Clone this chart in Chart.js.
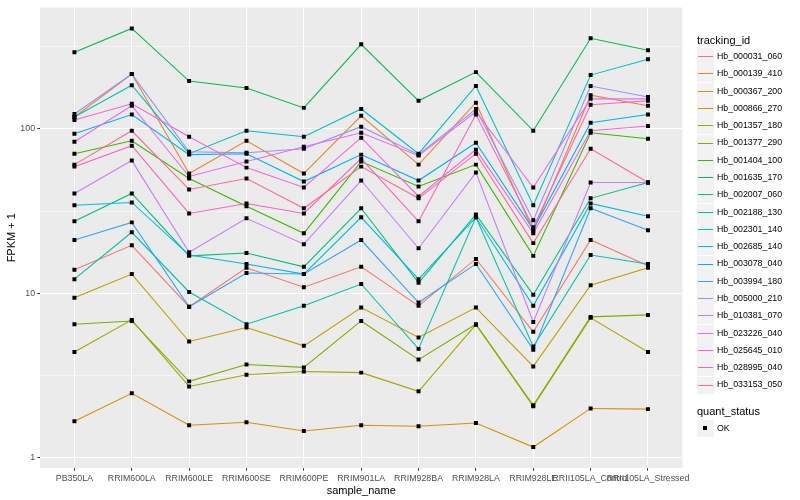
<!DOCTYPE html>
<html>
<head>
<meta charset="utf-8">
<script src="https://cdn.jsdelivr.net/npm/chart.js@4.4.1/dist/chart.umd.min.js"></script>
<style>
  html, body { margin: 0; padding: 0; background: #fff; }
  #wrap { position: relative; width: 800px; height: 500px; font-family: 'Liberation Sans', Arial, sans-serif; }
  #chart { position: absolute; left: 0; top: 0; }
  .lg { position: absolute; white-space: nowrap; color: #000; }
  .key { position: absolute; left: 697px; width: 17px; height: 17px; background: #F2F2F2; }
</style>
</head>
<body>
<div id="wrap">
  <canvas id="chart" width="800" height="500"></canvas>
  <div id="legend"></div>
</div>
<script>
const sampleNames = ['PB350LA', 'RRIM600LA', 'RRIM600LE', 'RRIM600SE', 'RRIM600PE', 'RRIM901LA',
  'RRIM928BA', 'RRIM928LA', 'RRIM928LE', 'RRII105LA_Control', 'RRII105LA_Stressed'];

// FPKM + 1, one value per sample
const hb_000031_060 = [13.9, 19.6, 8.3, 14.3, 10.9, 14.5, 8.4, 16.2, 5.85, 21.1, 14.7];
const hb_000139_410 = [118, 215, 53.5, 84.6, 53.5, 120, 60.6, 144, 23.9, 160, 138];
const hb_000367_200 = [1.67, 2.47, 1.58, 1.65, 1.46, 1.58, 1.56, 1.63, 1.165, 2.0, 1.98];
const hb_000866_270 = [9.4, 13.1, 5.1, 6.2, 4.8, 8.2, 5.4, 8.2, 3.6, 11.2, 14.3];
const hb_001357_180 = [4.4, 6.9, 2.72, 3.2, 3.35, 3.3, 2.54, 6.45, 2.06, 7.1, 4.4];
const hb_001377_290 = [6.5, 6.8, 2.92, 3.7, 3.55, 6.8, 3.96, 6.5, 2.09, 7.2, 7.4];
const hb_001404_100 = [70.6, 84.6, 49.9, 33.8, 23.2, 63.2, 44.6, 60.6, 16.9, 94.6, 87.1];
const hb_001635_170 = [292, 407, 195, 177, 134, 326, 148, 221, 97.3, 355, 300];
const hb_002007_060 = [27.4, 40.5, 16.9, 17.6, 14.5, 32.9, 11.6, 30.2, 9.8, 37.8, 47.2];
const hb_002188_130 = [12.2, 23.5, 10.2, 6.5, 8.4, 11.4, 4.6, 29.0, 4.75, 17.1, 15.1];
const hb_002301_140 = [118, 184, 70.6, 97.3, 89.5, 132, 70.6, 182, 34.3, 212, 265];
const hb_002685_140 = [34.3, 35.7, 17.1, 15.1, 13.1, 29.0, 12.2, 29.0, 8.4, 35.2, 29.4];
const hb_003078_040 = [93.3, 122, 69.7, 70.6, 47.8, 69.7, 48.5, 82.3, 24.5, 109, 122];
const hb_003994_180 = [21.1, 27.0, 8.3, 13.3, 13.1, 21.1, 8.8, 15.1, 4.55, 32.9, 24.2];
const hb_005000_210 = [123, 215, 72.6, 71.6, 75.7, 103, 69.7, 132, 27.8, 182, 156];
const hb_010381_070 = [40.5, 64.1, 17.8, 28.6, 19.9, 48.5, 18.8, 54.2, 6.7, 47.2, 47.2];
const hb_023226_040 = [83.4, 138, 51.3, 63.2, 77.8, 94.6, 68.7, 127, 44.0, 152, 152];
const hb_025645_010 = [113, 142, 89.5, 58.1, 44.0, 88.3, 38.8, 74.7, 23.2, 97.3, 104];
const hb_028995_040 = [58.9, 78.9, 30.6, 35.2, 30.6, 65.9, 27.4, 122, 25.2, 140, 148];
const hb_033153_050 = [60.6, 97.3, 42.8, 49.9, 32.9, 58.9, 37.8, 70.6, 20.2, 75.7, 47.2];

const trackingIds = ['Hb_000031_060', 'Hb_000139_410', 'Hb_000367_200', 'Hb_000866_270', 'Hb_001357_180',
  'Hb_001377_290', 'Hb_001404_100', 'Hb_001635_170', 'Hb_002007_060', 'Hb_002188_130', 'Hb_002301_140',
  'Hb_002685_140', 'Hb_003078_040', 'Hb_003994_180', 'Hb_005000_210', 'Hb_010381_070', 'Hb_023226_040',
  'Hb_025645_010', 'Hb_028995_040', 'Hb_033153_050'];
const seriesValues = [hb_000031_060, hb_000139_410, hb_000367_200, hb_000866_270, hb_001357_180,
  hb_001377_290, hb_001404_100, hb_001635_170, hb_002007_060, hb_002188_130, hb_002301_140,
  hb_002685_140, hb_003078_040, hb_003994_180, hb_005000_210, hb_010381_070, hb_023226_040,
  hb_025645_010, hb_028995_040, hb_033153_050];
const quantStatus = ['OK'];

const yMajor = [1, 10, 100];
const yMinor = [3.1623, 31.623, 316.23];

// ggplot default hue palette for 20 levels
const palette = ['#F8766D', '#EA8331', '#D89000', '#C09B00', '#A3A500', '#7CAE00', '#39B600', '#00BB4E',
  '#00BF7D', '#00C1A3', '#00BFC4', '#00BAE0', '#00B0F6', '#35A2FF', '#9590FF', '#C77CFF', '#E76BF3',
  '#FA62DB', '#FF62BC', '#FF6C91'];

Chart.defaults.font.family = "'Liberation Sans', Arial, sans-serif";

const lineSets = trackingIds.map((id, i) => ({
    label: id,
    data: seriesValues[i].map((v, j) => ({ x: j, y: v })),
    borderColor: palette[i],
    borderWidth: 1.07,
    pointRadius: 0,
    tension: 0,
    fill: false,
    order: 100 - i
}));

const pointSet = {
    type: 'scatter',
    label: quantStatus[0],
    data: seriesValues.flatMap(vals => vals.map((v, j) => ({ x: j, y: v }))),
    backgroundColor: '#000',
    pointStyle: 'rect',
    pointRadius: 2.8,
    borderWidth: 0,
    showLine: false,
    order: 0
};

const panelBg = {
    id: 'panelBg',
    beforeDraw(chart) {
        const { ctx, chartArea: a } = chart;
        ctx.save();
        ctx.fillStyle = '#EBEBEB';
        ctx.fillRect(a.left, a.top, a.right - a.left, a.bottom - a.top);
        ctx.restore();
    }
};

new Chart(document.getElementById('chart').getContext('2d'), {
    type: 'line',
    data: { datasets: [pointSet, ...lineSets] },
    plugins: [panelBg],
    options: {
        responsive: false,
        animation: false,
        layout: { padding: { top: 5, right: 117.6, left: 0, bottom: 0 } },
        plugins: { legend: { display: false }, tooltip: { enabled: false } },
        scales: {
            x: {
                type: 'linear',
                min: -0.6,
                max: 10.6,
                afterBuildTicks: s => { s.ticks = sampleNames.map((_, i) => ({ value: i })); },
                afterFit: s => { s.height = 32; },
                ticks: {
                    autoSkip: false, maxRotation: 0, minRotation: 0, padding: 2.2,
                    color: '#4D4D4D', font: { size: 8.8 },
                    callback: v => sampleNames[v]
                },
                grid: { color: '#FFFFFF', lineWidth: 1.07, tickLength: 2.75, tickColor: '#333333', tickWidth: 1 },
                border: { display: false },
                title: { display: true, text: 'sample_name', color: '#000', font: { size: 11 }, padding: { top: 2, bottom: 2 } }
            },
            y: {
                type: 'logarithmic',
                min: 0.869,
                max: 546,
                afterBuildTicks: s => { s.ticks = [...yMajor, ...yMinor].sort((a, b) => a - b).map(v => ({ value: v })); },
                afterFit: s => { s.width = 40; },
                ticks: {
                    padding: 2.2, color: '#4D4D4D', font: { size: 8.8 },
                    callback: v => yMajor.includes(v) ? String(v) : ''
                },
                grid: {
                    color: '#FFFFFF',
                    lineWidth: c => yMajor.includes(c.tick.value) ? 1.07 : 0.53,
                    tickColor: c => yMajor.includes(c.tick.value) ? '#333333' : 'rgba(0,0,0,0)',
                    tickLength: 2.75, tickWidth: 1
                },
                border: { display: false },
                title: { display: true, text: 'FPKM + 1', color: '#000', font: { size: 11 }, padding: { top: 5, bottom: 0 } }
            }
        }
    }
});

// legend in ggplot style
const legend = document.getElementById('legend');
const keyH = 17.28;
function addText(text, x, yc, size) {
    const d = document.createElement('div');
    d.className = 'lg';
    d.textContent = text;
    d.style.left = x + 'px';
    d.style.top = (yc - keyH / 2) + 'px';
    d.style.height = keyH + 'px';
    d.style.lineHeight = keyH + 'px';
    d.style.fontSize = size + 'px';
    legend.appendChild(d);
}
function addKey(yc, inner) {
    const k = document.createElement('div');
    k.className = 'key';
    k.style.top = Math.round(yc - 8.5) + 'px';
    k.appendChild(inner);
    legend.appendChild(k);
}

addText('tracking_id', 697, 40.7, 11);
trackingIds.forEach((id, i) => {
    const yc = 56.7 + keyH * i;
    const ln = document.createElement('div');
    ln.style.cssText = 'position:absolute;left:1px;right:1px;top:8px;height:1px;background:' + palette[i];
    addKey(yc, ln);
    addText(id, 717, yc, 8.8);
});

addText('quant_status', 697, 411.7, 11);
quantStatus.forEach((q, i) => {
    const yc = 428.6 + keyH * i;
    const sq = document.createElement('div');
    sq.style.cssText = 'position:absolute;left:6px;top:6px;width:4px;height:4px;background:#000';
    addKey(yc, sq);
    addText(q, 717, yc, 8.8);
});
</script>
</body>
</html>
